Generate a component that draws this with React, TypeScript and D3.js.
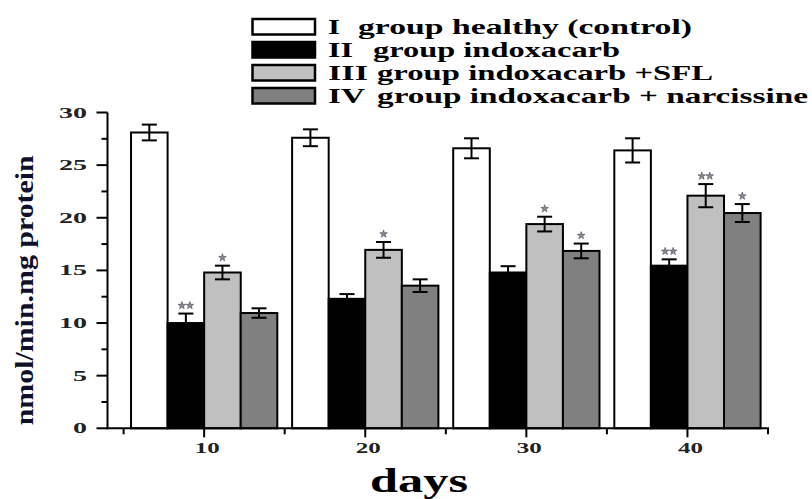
import React from 'react';
import * as d3 from 'd3';

// days on the x axis
const days = [10, 20, 30, 40];

// series (nmol/min.mg protein)
const seriesNames = ['I', 'II', 'III', 'IV'];
const legendTexts = [
    'group healthy (control)',
    'group indoxacarb',
    'group indoxacarb +SFL',
    'group indoxacarb + narcissine',
];
const control = [28.1, 27.6, 26.6, 26.4];
const controlErr = [0.75, 0.8, 0.95, 1.15];
const indoxacarb = [10.0, 12.3, 14.8, 15.45];
const indoxacarbErr = [0.9, 0.45, 0.6, 0.6];
const sfl = [14.8, 16.95, 19.4, 22.1];
const sflErr = [0.65, 0.75, 0.7, 1.1];
const narcissine = [10.95, 13.55, 16.85, 20.45];
const narcissineErr = [0.45, 0.6, 0.7, 0.85];
const indoxacarbStars = [2, 0, 0, 2];
const sflStars = [1, 1, 1, 2];
const narcissineStars = [0, 0, 1, 1];

const yTicks = [0, 5, 10, 15, 20, 25, 30];
const yMinorTicks = [2.5, 7.5, 12.5, 17.5, 22.5, 27.5];
const xMinorTicks = [5, 15, 25, 35, 45];

const fills = ['#ffffff', '#000000', '#c0c0c0', '#808080'];
const FONT = "'Liberation Serif', 'Times New Roman', serif";

export default function App() {
    const x = d3.scaleLinear().domain([4, 45]).range([107.5, 768]);
    const y = d3.scaleLinear().domain([0, 30]).range([428.3, 112.5]);
    const barW = 2.27; // in days units

    const series = [
        { values: control, errs: controlErr, stars: [0, 0, 0, 0] },
        { values: indoxacarb, errs: indoxacarbErr, stars: indoxacarbStars },
        { values: sfl, errs: sflErr, stars: sflStars },
        { values: narcissine, errs: narcissineErr, stars: narcissineStars },
    ];

    const star = d3.symbol().type(d3.symbolStar).size(18)();

    const legendBase = [34, 57, 80, 103];
    const numeralLen = [12, 25, 40, 37];
    const textX = [358, 373, 377, 377];
    const textLen = [334, 247, 336, 431];

    return (
        <svg
            width={812}
            height={499}
            style={{ position: 'absolute', left: 0, top: 0, background: '#fff' }}
            fontFamily={FONT}
            fontWeight="bold"
        >
            {/* bars */}
            {series.map((s, si) =>
                s.values.map((v, di) => {
                    const x0 = x(days[di] + (si - 2) * barW);
                    const x1 = x(days[di] + (si - 1) * barW);
                    return (
                        <rect
                            key={`b${si}-${di}`}
                            x={x0}
                            y={y(v)}
                            width={x1 - x0}
                            height={y(0) - y(v)}
                            fill={fills[si]}
                            stroke="#000"
                            strokeWidth={2}
                        />
                    );
                })
            )}
            {/* error bars and stars */}
            {series.map((s, si) =>
                s.values.map((v, di) => {
                    const cx = x(days[di] + (si - 1.5) * barW);
                    const top = y(v + s.errs[di]);
                    const bot = y(v - s.errs[di]);
                    const n = s.stars[di];
                    return (
                        <g key={`e${si}-${di}`} stroke="#000" strokeWidth={2}>
                            <line x1={cx} x2={cx} y1={top} y2={bot} />
                            <line x1={cx - 7.5} x2={cx + 7.5} y1={top} y2={top} />
                            <line x1={cx - 7.5} x2={cx + 7.5} y1={bot} y2={bot} />
                            {d3.range(n).map((k) => (
                                <path
                                    key={k}
                                    d={star}
                                    transform={`translate(${cx + (k - (n - 1) / 2) * 8},${top - 8})`}
                                    fill="#8a8a96"
                                    stroke="#4a4a5a"
                                    strokeWidth={0.6}
                                />
                            ))}
                        </g>
                    );
                })
            )}
            {/* y axis */}
            <line x1={x(4)} x2={x(4)} y1={y(0) + 1} y2={y(30)} stroke="#000" strokeWidth={2} />
            {yTicks.map((t) => (
                <g key={`yt${t}`}>
                    <line x1={x(4) - 11} x2={x(4)} y1={y(t)} y2={y(t)} stroke="#000" strokeWidth={2} />
                    <text
                        x={87}
                        y={y(t) + 5}
                        textAnchor="end"
                        fontSize={15}
                        fill="#222"
                        textLength={String(t).length * 14}
                        lengthAdjust="spacingAndGlyphs"
                    >
                        {t}
                    </text>
                </g>
            ))}
            {yMinorTicks.map((t) => (
                <line key={`ym${t}`} x1={x(4) - 6} x2={x(4)} y1={y(t)} y2={y(t)} stroke="#000" strokeWidth={2} />
            ))}
            {/* x axis */}
            <line x1={x(4) - 1} x2={x(45) + 1} y1={y(0)} y2={y(0)} stroke="#000" strokeWidth={2} />
            {days.map((d) => (
                <g key={`xt${d}`}>
                    <line x1={x(d)} x2={x(d)} y1={y(0)} y2={y(0) + 9} stroke="#000" strokeWidth={2} />
                    <text
                        x={x(d) + 3}
                        y={453}
                        textAnchor="middle"
                        fontSize={14}
                        fill="#222"
                        textLength={25}
                        lengthAdjust="spacingAndGlyphs"
                    >
                        {d}
                    </text>
                </g>
            ))}
            {xMinorTicks.map((t) => (
                <line key={`xm${t}`} x1={x(t)} x2={x(t)} y1={y(0)} y2={y(0) + 6} stroke="#000" strokeWidth={2} />
            ))}
            {/* axis titles */}
            <text
                x={419}
                y={492}
                textAnchor="middle"
                fontSize={34}
                fill="#000"
                textLength={98}
                lengthAdjust="spacingAndGlyphs"
            >
                days
            </text>
            <text
                transform={`translate(33,${y(0) - 3}) rotate(-90)`}
                x={0}
                y={0}
                fontSize={26}
                fill="#10102a"
                textLength={270}
                lengthAdjust="spacingAndGlyphs"
            >
                nmol/min.mg protein
            </text>
            {/* legend */}
            {seriesNames.map((nm, i) => (
                <g key={`lg${i}`}>
                    <rect
                        x={252.5}
                        y={legendBase[i] - 15}
                        width={62.5}
                        height={15.5}
                        fill={fills[i]}
                        stroke="#000"
                        strokeWidth={2.5}
                    />
                    <text
                        x={328}
                        y={legendBase[i]}
                        fontSize={22}
                        fill="#000"
                        textLength={numeralLen[i]}
                        lengthAdjust="spacingAndGlyphs"
                    >
                        {nm}
                    </text>
                    <text
                        x={textX[i]}
                        y={legendBase[i]}
                        fontSize={22}
                        fill="#000"
                        textLength={textLen[i]}
                        lengthAdjust="spacingAndGlyphs"
                    >
                        {legendTexts[i]}
                    </text>
                </g>
            ))}
        </svg>
    );
}
